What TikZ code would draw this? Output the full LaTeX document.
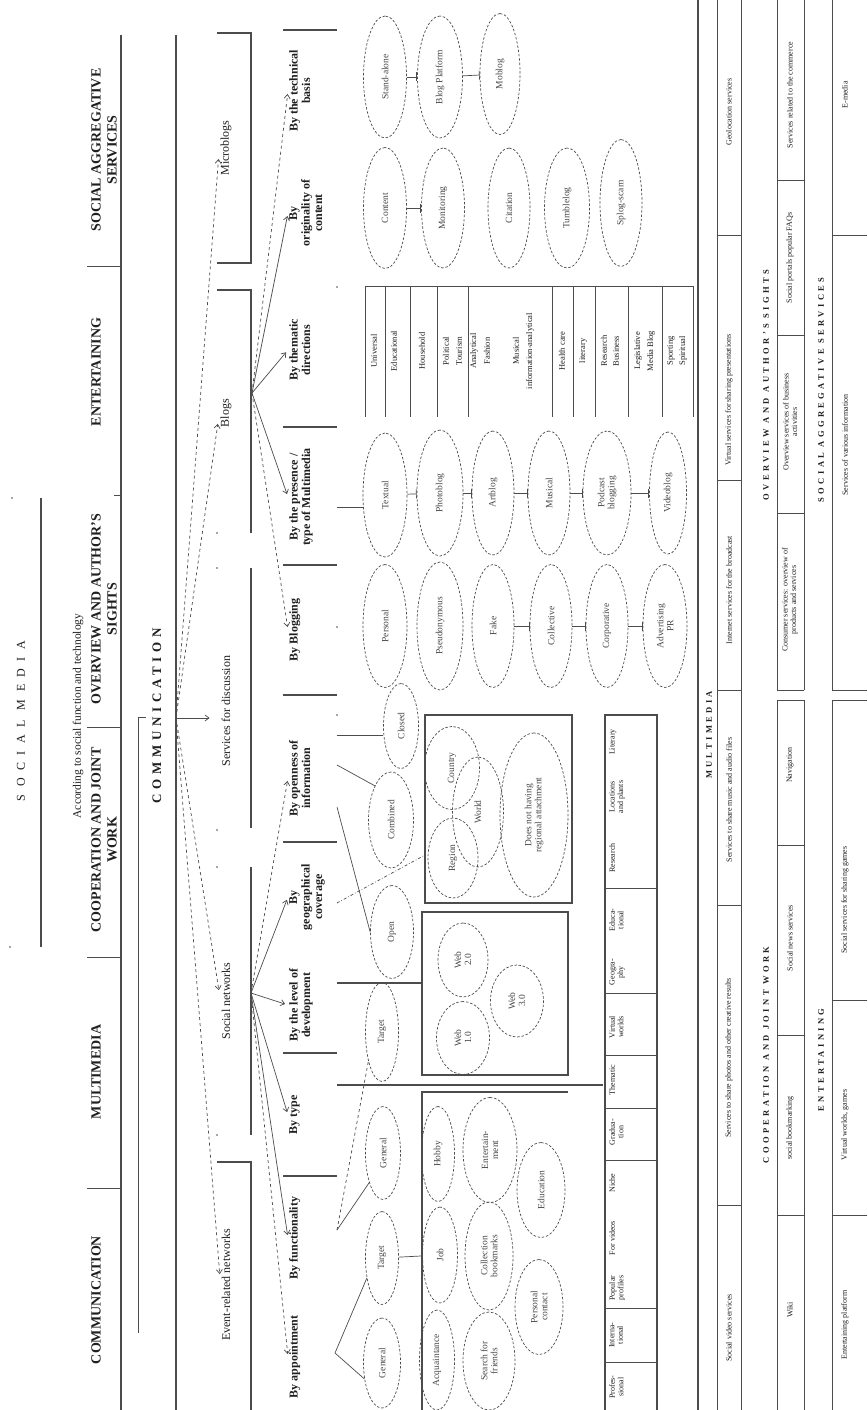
\documentclass[tikz,border=0pt]{standalone}
\usepackage{fontspec}
\setmainfont{Liberation Serif}
\usetikzlibrary{shapes.geometric,arrows.meta}
\definecolor{lc}{gray}{0.3}
\definecolor{tc}{gray}{0.12}
\newcommand\Ell[6]{\node[ell, minimum width=#4pt, minimum height=#5pt] (#1) at (#2,#3) {#6};}
\tikzset{
 ln/.style={draw=lc, line width=1.3pt},
 tl/.style={draw=lc, line width=0.7pt},
 rt/.style={rotate=90, inner sep=1pt, align=center, text=tc},
 hdr/.style={rt, font=\fontsize{14}{16}\selectfont\bfseries},
 subl/.style={rt, font=\fontsize{12}{12}\selectfont},
 catl/.style={rt, anchor=north, font=\fontsize{12}{12.5}\selectfont\bfseries},
 ell/.style={rt, ellipse, draw=lc, dash pattern=on 2.5pt off 1.8pt, line width=0.7pt, inner sep=0pt, font=\fontsize{9.5}{10}\selectfont, text=black!72},
 arD/.style={tl, dashed, -{Straight Barb[length=4pt,width=6pt]}, shorten >=3pt},
 arS/.style={tl, -{Straight Barb[length=4pt,width=6pt]}, shorten >=3pt},
 conn/.style={tl, -{Bar[width=9pt]}},
 themcell/.style={rt, font=\fontsize{8.5}{8.5}\selectfont},
 sncell/.style={rt, anchor=north, font=\fontsize{8}{8.5}\selectfont},
 rowt/.style={rt, font=\fontsize{8}{8.5}\selectfont},
 ttl/.style={rt, font=\fontsize{8.5}{9}\selectfont\bfseries\addfontfeature{LetterSpace=40}},
}
\begin{document}
\begin{tikzpicture}[x=1pt,y=-1pt]
\useasboundingbox (0,0) rectangle (867,1410);
\fill[white] (0,0) rectangle (867,1410);
% ---------------- header ----------------
\node[rt, font=\fontsize{12}{12}\selectfont\addfontfeature{LetterSpace=62}] (title) at (21,721) {SOCIAL MEDIA};
\draw[ln] (41,498) -- (41,947);
\fill[lc] (12,498) circle (0.9pt) (10,947) circle (0.9pt);
\node[rt, font=\fontsize{11.5}{12}\selectfont] (acc) at (78,716) {According to social function and technology};
\node[hdr] (hSAS) at (104,150) {SOCIAL AGGREGATIVE\\SERVICES};
\node[hdr] (hENT) at (96,372) {ENTERTAINING};
\node[hdr] (hOAS) at (104,609) {OVERVIEW AND AUTHOR'S\\SIGHTS};
\node[hdr] (hCJW) at (104,840) {COOPERATION AND JOINT\\WORK};
\node[hdr] (hMUL) at (96,1072) {MULTIMEDIA};
\node[hdr] (hCOM) at (96,1300) {COMMUNICATION};
\draw[tl] (87,266) -- (121,266) (114,495) -- (121,495) (87,727) -- (121,727) (87,957) -- (121,957) (87,1188) -- (121,1188);
\draw[ln] (121,35) -- (121,1410);
\draw[ln] (176,35) -- (176,1410);
\draw[tl] (146,717) -- (138,717) -- (138,1333);
\node[rt, font=\fontsize{13}{13}\selectfont\bfseries\addfontfeature{LetterSpace=36}] (comm) at (157,716) {COMMUNICATION};
% subcategory brackets
\draw[ln] (217,33) -- (251,33) -- (251,263) -- (217,263);
\draw[ln] (217,290) -- (251,290) -- (251,533);
\draw[ln] (251,568) -- (251,828);
\draw[ln] (251,867) -- (251,1135);
\draw[ln] (217,1162) -- (251,1162) -- (251,1410);
\fill[lc] (217,533) circle (0.9pt) (217,568) circle (0.9pt) (217,830) circle (0.9pt) (217,867) circle (0.9pt) (217,1135) circle (0.9pt);
\node[subl] (mb) at (226,148) {Microblogs};
\node[subl] (bl) at (226,413) {Blogs};
\node[subl] (sd) at (226,711) {Services for discussion};
\node[subl] (sn) at (226,1001) {Social networks};
\node[subl] (er) at (226,1285) {Event-related networks};
\coordinate (hub) at (176,718);
\draw[arD, shorten >=11pt] (hub) -- (mb.north);
\draw[arD, shorten >=11pt] (hub) -- (bl.north);
\draw[arS, shorten >=11pt] (hub) -- (hub -| sd.north);
\draw[arD, shorten >=11pt] (hub) -- (sn.north);
\draw[arD, shorten >=11pt] (hub) -- (er.north);
% category labels
\node[catl] (cTech) at (288,91) {By the technical\\basis};
\node[catl] (cOrig) at (288,213) {By\\originality of\\content};
\node[catl] (cThem) at (288,350) {By thematic\\directions};
\node[catl] (cPres) at (288,497) {By the presence /\\type of Multimedia};
\node[catl] (cBlog) at (288,630) {By Blogging};
\node[catl] (cOpen) at (288,778) {By openness of\\information};
\node[catl] (cGeo) at (288,897) {By\\geographical\\coverage};
\node[catl] (cLev) at (288,1005) {By the level of\\development};
\node[catl] (cType) at (288,1115) {By type};
\node[catl] (cFunc) at (288,1238) {By functionality};
\node[catl] (cApp) at (288,1357) {By appointment};
\draw[ln] (283,30) -- (337,30) (283,427) -- (337,427) (283,565) -- (337,565) (283,695) -- (337,695) (283,842) -- (337,842) (283,1053) -- (337,1053) (283,1176) -- (337,1176);
\fill[lc] (337,287) circle (0.9pt) (337,627) circle (0.9pt) (337,715) circle (0.9pt);
\coordinate (bh) at (252,393);
\draw[arD] (bh) -- (cTech.north);
\draw[arS] (bh) -- (cOrig.north);
\draw[arS] (bh) -- (cThem.north);
\draw[arS] (bh) -- (cPres.north);
\draw[arD] (bh) -- (cBlog.north);
\coordinate (sh) at (251,993);
\draw[arD] (sh) -- (cOpen.north);
\draw[arS] (sh) -- (cGeo.north);
\draw[arS] (sh) -- (cLev.north);
\draw[arS] (sh) -- (cType.north);
\draw[arS] (sh) -- (cFunc.north);
\draw[arD] (sh) -- (cApp.north);
% ---------------- blogs ellipses ----------------
\Ell{eSA}{385}{77}{122}{43}{Stand-alone}
\Ell{eBP}{440}{77}{122}{45}{Blog Platform}
\Ell{eMo}{500}{74}{121}{40}{Moblog}
\Ell{eCo}{385}{208}{121}{43}{Content}
\Ell{eMn}{443}{208}{120}{43}{Monitoring}
\Ell{eCi}{509}{208}{120}{42}{Citation}
\Ell{eTu}{567}{208}{120}{45}{Tumblelog}
\Ell{eSp}{621}{203}{127}{42}{Splog-scam}
\Ell{eTx}{385}{495}{124}{44}{Textual}
\Ell{ePh}{440}{493}{126}{46}{Photoblog}
\Ell{eAr}{493}{493}{124}{42}{Artblog}
\Ell{eMu}{549}{493}{124}{42}{Musical}
\Ell{ePo}{607}{493}{124}{48}{Podcast\\blogging}
\Ell{eVi}{668}{493}{122}{37}{Videoblog}
\Ell{ePe}{385}{626}{123}{44}{Personal}
\Ell{ePs}{440}{626}{128}{46}{Pseudonymous}
\Ell{eFa}{493}{626}{123}{42}{Fake}
\Ell{eCl}{551}{626}{123}{42}{Collective}
\Ell{eCp}{607}{626}{123}{42}{Corporative}
\Ell{eAd}{665}{626}{123}{44}{Advertising\\PR}
\draw[conn] (eSA) -- (eBP);
\draw[conn] (eBP) -- (eMo);
\draw[conn] (eCo) -- (eMn);
\draw[conn] (eTx) -- (ePh);
\draw[conn] (ePh) -- (eAr);
\draw[conn] (eAr) -- (eMu);
\draw[conn] (eMu) -- (ePo);
\draw[conn] (ePo) -- (eVi);
\draw[conn] (eFa) -- (eCl);
\draw[conn] (eCl) -- (eCp);
\draw[conn] (eCp) -- (eAd);
\coordinate (pT) at (337,507);
\draw[tl] (pT) -- (pT -| eTx.north);
% thematic table
\draw[tl] (365,286) -- (693,286);
\foreach \xx in {365,385,410,437,468,552,573,595,628,662,693} \draw[tl] (\xx,286) -- (\xx,417);
\node[themcell] (t1) at (374,351) {Universal};
\node[themcell] (t2) at (394,351) {Educational};
\node[themcell] (t3) at (422,351) {Household};
\node[themcell] (t4) at (446,351) {Political};
\node[themcell] (t5) at (459,351) {Tourism};
\node[themcell] (t6) at (474,351) {Analytical};
\node[themcell] (t7) at (487,351) {Fashion};
\node[themcell] (t8) at (516,351) {Musical};
\node[themcell] (t9) at (530,351) {information-analytical};
\node[themcell] (t10) at (562,351) {Health care};
\node[themcell] (t11) at (583,351) {literary};
\node[themcell] (t12) at (604,351) {Research};
\node[themcell] (t13) at (616,351) {Business};
\node[themcell] (t14) at (638,351) {Legislative};
\node[themcell] (t15) at (651,351) {Media Blog};
\node[themcell] (t16) at (671,351) {Sporting};
\node[themcell] (t17) at (683,351) {Spiritual};
% ---------------- social networks ----------------
\Ell{eCd}{401}{726}{85}{35}{Closed}
\Ell{eCm}{391}{820}{96}{45}{Combined}
\Ell{eOp}{392}{932}{93}{43}{Open}
\draw[ln] (425,715) rectangle (572,903);
\Ell{eCn}{452}{768}{83}{55}{Country}
\Ell{eDn}{534}{815}{164}{68}{Does not having\\regional attachment}
\Ell{eRe}{453}{858}{80}{50}{Region}
\Ell{eWo}{478}{812}{110}{51}{World}
\coordinate (o1) at (337,735);
\draw[tl] (o1) -- (o1 -| eCd.north);
\coordinate (o2) at (337,765);
\draw[tl] (o2) -- (eCm.north east);
\coordinate (o3) at (337,807);
\draw[tl] (o3) -- (eOp.north);
\coordinate (g1) at (337,903);
\coordinate (g2) at (425,855);
\draw[tl, dash dot] (g1) -- (g2);
\draw[ln] (422,912) rectangle (568,1075);
\coordinate (lv1) at (337,983);
\coordinate (lv2) at (422,983);
\draw[ln] (lv1) -- (lv2);
\Ell{eW2}{463}{960}{74}{50}{Web\\2.0}
\Ell{eW3}{517}{1001}{72}{53}{Web\\3.0}
\Ell{eW1}{463}{1038}{73}{53}{Web\\1.0}
\Ell{eTa}{382}{1032}{99}{33}{Target}
\draw[ln] (337,1085) -- (603,1085);
\draw[ln] (568,1092) -- (422,1092) -- (422,1410);
\Ell{eG1}{383}{1153}{93}{35}{General}
\Ell{eT2}{382}{1258}{93}{33}{Target}
\Ell{eG2}{382}{1363}{90}{37}{General}
\Ell{eHo}{438}{1154}{95}{33}{Hobby}
\Ell{eJo}{440}{1255}{96}{35}{Job}
\Ell{eAc}{437}{1360}{100}{35}{Acquaintance}
\Ell{eEn}{490}{1150}{105}{54}{Entertain-\\ment}
\Ell{eCb}{489}{1256}{108}{48}{Collection\\bookmarks}
\Ell{eSf}{489}{1361}{98}{52}{Search for\\friends}
\Ell{eEd}{541}{1190}{95}{48}{Education}
\Ell{ePc}{539}{1307}{95}{48}{Personal\\contact}
\draw[conn] (eT2) -- (eJo);
\coordinate (fv) at (337,1230);
\draw[tl] (fv) -- (eG1.155);
\draw[tl, dashed] (fv) -- (eTa.155);
\coordinate (av) at (335,1353);
\draw[tl] (av) -- (eT2.143);
\draw[tl] (av) -- (eG2.132);
% social types table
\draw[ln] (657,1410) -- (657,715) -- (605,715) -- (605,1410);
\foreach \yy in {888,993,1055,1108,1160,1308,1362} \draw[tl] (605,\yy) -- (657,\yy);
\node[sncell] (s1) at (608,742) {Literary};
\node[sncell] (s2) at (608,797) {Locations\\and plants};
\node[sncell] (s3) at (608,858) {Research};
\node[sncell] (s4) at (608,920) {Educa-\\tional};
\node[sncell] (s5) at (608,972) {Geogra-\\phy};
\node[sncell] (s6) at (608,1027) {Virtual\\worlds};
\node[sncell] (s7) at (608,1080) {Thematic};
\node[sncell] (s8) at (608,1132) {Gradua-\\tion};
\node[sncell] (s9) at (608,1183) {Niche};
\node[sncell] (s10) at (608,1238) {For videos};
\node[sncell] (s11) at (608,1288) {Popular\\profiles};
\node[sncell] (s12) at (608,1335) {Interna-\\tional};
\node[sncell] (s13) at (608,1387) {Profes-\\sional};
% ---------------- bottom tables ----------------
\draw[ln] (698,0) -- (698,1410);
\node[ttl] (bMUL) at (709,735) {MULTIMEDIA};
\draw[tl] (717,0) -- (717,1410) (741,0) -- (741,1410);
\foreach \yy in {1205,905,690,480,235} \draw[tl] (717,\yy) -- (741,\yy);
\node[rowt] (r1a) at (729,1328) {Social video services};
\node[rowt] (r1b) at (729,1058) {Services to share photos and other creative results};
\node[rowt] (r1c) at (729,800) {Services to share music and audio files};
\node[rowt] (r1d) at (729,590) {Internet services for the broadcast};
\node[rowt] (r1e) at (729,400) {Virtual services for sharing presentations};
\node[rowt] (r1f) at (729,112) {Geolocation services};
\node[ttl] (bCJW) at (766,1055) {COOPERATION AND JOINT WORK};
\node[ttl] (bOAS) at (766,385) {OVERVIEW AND AUTHOR'S SIGHTS};
\draw[tl] (777,700) -- (777,1410) (804,700) -- (804,1410) (777,700) -- (804,700);
\draw[tl] (777,0) -- (777,690) (804,0) -- (804,690) (777,690) -- (804,690);
\foreach \yy in {1215,1035,845,513,335,180} \draw[tl] (777,\yy) -- (804,\yy);
\node[rowt] (r2a) at (790,1310) {Wiki};
\node[rowt] (r2b) at (790,1128) {social bookmarking};
\node[rowt] (r2c) at (790,938) {Social news services};
\node[rowt] (r2d) at (790,765) {Navigation};
\node[rowt] (r2e) at (790,600) {Consumer services: overview of\\products and services};
\node[rowt] (r2f) at (790,422) {Overview services of business\\activities};
\node[rowt] (r2g) at (790,258) {Social portals popular FAQs};
\node[rowt] (r2h) at (790,95) {Services related to the commerce};
\node[ttl] (bENT) at (821,1060) {ENTERTAINING};
\node[ttl] (bSAS) at (821,390) {SOCIAL AGGREGATIVE SERVICES};
\draw[tl] (832,700) -- (832,1410) (832,700) -- (867,700);
\draw[tl] (832,0) -- (832,690) (832,690) -- (867,690);
\foreach \yy in {1215,1000,235} \draw[tl] (832,\yy) -- (867,\yy);
\node[rowt] (r3a) at (845,1325) {Entertaining platform};
\node[rowt] (r3b) at (845,1125) {Virtual worlds, games};
\node[rowt] (r3c) at (845,900) {Social services for sharing games};
\node[rowt] (r3d) at (845,445) {Services of various information};
\node[rowt] (r3e) at (845,95) {E-media};
\end{tikzpicture}
\end{document}
